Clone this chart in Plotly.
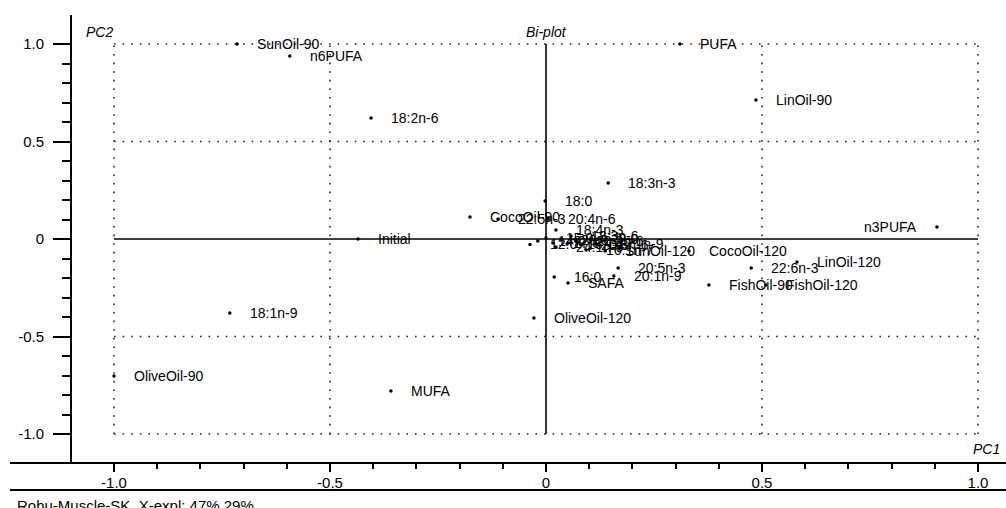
import plotly.graph_objects as go

# ---- data (PC1, PC2 loadings / scores) ----
names = ["SunOil-90", "n6PUFA", "18:2n-6", "PUFA", "LinOil-90", "18:3n-3", "18:0",
         "n3PUFA", "Initial", "CocoOil-90", "CocoOil-120", "22:6n-3", "LinOil-120",
         "FishOil-90", "FishOil-120", "20:5n-3", "20:1n-9", "16:0", "SAFA",
         "OliveOil-120", "18:1n-9", "OliveOil-90", "MUFA", "SunOil-120", "12:0",
         "22:5n-3", "20:4n-6", "14:0", "15:0", "17:0", "20:0", "16:1n-7", "18:1n-7",
         "18:3n-6", "20:2n-6", "20:3n-6", "22:0", "24:1n-9", "22:1n-9", "18:4n-3"]
pc1 = [-0.715, -0.593, -0.405, 0.310, 0.486, 0.144, -0.002,
       0.905, -0.435, -0.176, 0.331, 0.475, 0.581,
       0.377, 0.509, 0.167, 0.157, 0.019, 0.051,
       -0.028, -0.732, -1.000, -0.359, 0.137, -0.037,
       -0.111, 0.005, -0.019, 0.000, 0.016, 0.035, 0.093, 0.049,
       0.058, 0.069, 0.081, 0.104, 0.023, 0.116, 0.023]
pc2 = [1.000, 0.938, 0.621, 1.000, 0.713, 0.287, 0.195,
       0.062, 0.000, 0.113, -0.062, -0.149, -0.118,
       -0.236, -0.236, -0.149, -0.190, -0.195, -0.226,
       -0.405, -0.379, -0.703, -0.779, -0.062, -0.028,
       0.103, 0.103, -0.010, 0.005, -0.021, -0.005, -0.056, -0.026,
       0.015, -0.010, -0.031, 0.000, -0.041, -0.026, 0.046]
left_labels = ["n3PUFA"]

tick_vals = [-1.0, -0.5, 0.0, 0.5, 1.0]
tick_text = ["-1.0", "-0.5", "0", "0.5", "1.0"]
minor_vals = [round(i * 0.1, 1) for i in range(-10, 11) if i % 5 != 0]
grid_vals = [-1.0, -0.5, 0.5, 1.0]

FONT = "Liberation Sans, Arial, sans-serif"

W, H = 1006, 508
T = 15
PW, PH = W, H - T          # paper area (margins l=r=b=0, t=15)


def px(xpix):
    return xpix / PW


def py(ypix):
    return (H - ypix) / PH


fig = go.Figure()
fig.add_trace(go.Scatter(x=pc1, y=pc2, mode="markers",
                         marker=dict(size=3.5, color="black"),
                         hovertext=names, hoverinfo="text", showlegend=False))
# decorative separator rule under the tick labels, drawn in its own thin strip subplot
fig.add_trace(go.Scatter(x=[0, 1], y=[0, 0], mode="lines", xaxis="x2", yaxis="y2",
                         line=dict(color="black", width=2), showlegend=False,
                         hoverinfo="skip"))

# point labels
for n, x, y in zip(names, pc1, pc2):
    left = n in left_labels
    fig.add_annotation(x=x, y=y, text=n, showarrow=False,
                       xanchor="right" if left else "left", yanchor="middle",
                       xshift=-18 if left else 18,
                       font=dict(family=FONT, size=14, color="black"))

# dotted reference grid (from -1 to 1 only)
dot = dict(color="#222", width=1.6, dash="1.6px,7px")
for g in grid_vals:
    fig.add_shape(type="line", x0=-1, x1=1, y0=g, y1=g, line=dot, layer="below")
    fig.add_shape(type="line", x0=g, x1=g, y0=-1, y1=1, line=dot, layer="below")
# solid centre axes
solid = dict(color="black", width=1.6)
fig.add_shape(type="line", x0=-1, x1=1, y0=0, y1=0, line=solid, layer="below")
fig.add_shape(type="line", x0=0, x1=0, y0=-1, y1=1, line=solid, layer="below")

# x axis line extending to the left edge
fig.add_shape(type="line", xref="paper", yref="paper", x0=px(10), x1=1, y0=py(463), y1=py(463),
              line=dict(color="black", width=2))

# texts
fig.add_annotation(xref="paper", yref="paper", x=px(84), y=py(32), text="<i>PC2</i>",
                   showarrow=False, xanchor="left", yanchor="middle",
                   font=dict(family=FONT, size=14, color="black"))
fig.add_annotation(xref="x", yref="paper", x=0, y=py(32), text="<i>Bi-plot</i>",
                   showarrow=False, xanchor="center", yanchor="middle",
                   font=dict(family=FONT, size=14, color="black"))
fig.add_annotation(xref="paper", yref="paper", x=px(1002), y=py(449), text="<i>PC1</i>",
                   showarrow=False, xanchor="right", yanchor="middle",
                   font=dict(family=FONT, size=14, color="black"))
fig.add_annotation(xref="paper", yref="paper", x=px(15), y=py(495),
                   text="Rohu-Muscle-SK. X-expl: 47%,29%",
                   showarrow=False, xanchor="left", yanchor="top",
                   font=dict(family=FONT, size=15, color="black"))

xr = [-1 - 42 / 432, 1 + 28 / 432]
yr = [-1 - 29 / 195, 1 + 29 / 195]

fig.update_layout(
    width=W, height=H, margin=dict(l=0, r=0, t=T, b=0, pad=0),
    plot_bgcolor="rgba(0,0,0,0)", paper_bgcolor="white", showlegend=False,
    font=dict(family=FONT, color="black"),
    xaxis=dict(range=xr, domain=[px(72), 1], anchor="y", tickmode="array",
               tickvals=tick_vals, ticktext=tick_text,
               ticks="outside", ticklen=8, tickwidth=1.5, tickcolor="black",
               ticklabelstandoff=-2,
               showgrid=False, zeroline=False, showline=False,
               tickfont=dict(family=FONT, size=15, color="black"),
               minor=dict(tickmode="array", tickvals=minor_vals, ticks="outside",
                          ticklen=5, tickwidth=1.5, tickcolor="black", showgrid=False)),
    yaxis=dict(range=yr, domain=[py(463), 1], anchor="x", tickmode="array",
               tickvals=tick_vals, ticktext=tick_text,
               ticks="outside", ticklen=17, tickwidth=2, tickcolor="black",
               ticklabelstandoff=6,
               showgrid=False, zeroline=False, showline=True, linecolor="black", linewidth=2,
               tickfont=dict(family=FONT, size=15, color="black"),
               minor=dict(tickmode="array", tickvals=minor_vals, ticks="outside",
                          ticklen=8, tickwidth=2, tickcolor="black", showgrid=False)),
    xaxis2=dict(domain=[px(10), 1], anchor="y2", range=[0, 1],
                showline=False, ticks="", showticklabels=False, showgrid=False,
                zeroline=False, fixedrange=True),
    yaxis2=dict(domain=[py(493), py(487)], anchor="x2", range=[-1, 1],
                showline=False, ticks="", showticklabels=False, showgrid=False,
                zeroline=False, fixedrange=True),
)

fig.write_html("out.html", config={"displayModeBar": False},
               post_script="document.body.style.margin='0';document.body.style.overflow='hidden';")
